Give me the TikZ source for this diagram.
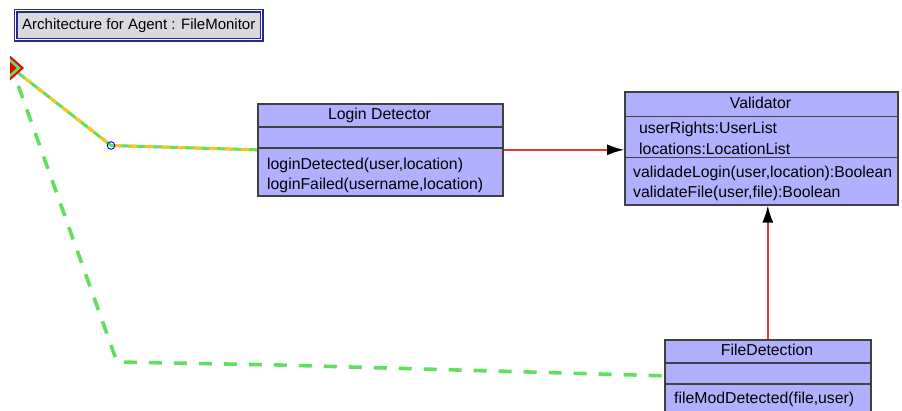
\documentclass[tikz,border=0pt]{standalone}
\usepackage{fontspec}
\setmainfont{Liberation Sans}
\usetikzlibrary{arrows.meta}

\definecolor{classfill}{RGB}{176,176,255}
\definecolor{classedge}{RGB}{64,64,64}
\definecolor{navyedge}{RGB}{40,40,140}
\definecolor{titlefill}{RGB}{218,218,222}
\definecolor{assocred}{RGB}{222,56,56}
\definecolor{linkgreen}{RGB}{96,224,96}
\definecolor{linkgold}{RGB}{255,196,32}
\definecolor{marker}{RGB}{240,0,0}

\tikzset{
  classbox/.style={draw=classedge, fill=classfill, line width=1.6pt, inner sep=0pt, anchor=north west},
  sepline/.style={draw=classedge, line width=1.4pt},
  ctext/.style={inner sep=0pt, font=\fontsize{15.8}{18}\selectfont},
  ctitle/.style={ctext, anchor=base},
  cmember/.style={ctext, anchor=base west},
  assoc/.style={color=assocred, line width=1.4pt, -{Latex[length=17pt,width=11pt,color=black]}},
  greenlink/.style={draw=linkgreen, line width=3.6pt, dash pattern=on 13pt off 12pt, dash phase=6pt},
  mixlink/.style={draw=linkgreen, line width=3pt},
  mixdash/.style={draw=linkgold, line width=3pt, dash pattern=on 8pt off 8pt},
}

\begin{document}
\begin{tikzpicture}[x=1pt, y=-1pt]
  \useasboundingbox[fill=white] (0,0) rectangle (902,410);

  % title plate
  \node[draw=navyedge, double=white, double distance=1.2pt, line width=1.5pt,
        fill=titlefill, minimum width=246pt, minimum height=29pt, inner sep=0pt,
        anchor=north west, font=\fontsize{15}{18}\selectfont] (title) at (15,10)
        {Architecture for Agent : FileMonitor};

  % class boxes
  \node[classbox, minimum width=245pt, minimum height=92pt] (login) at (257,103) {};
  \node[classbox, minimum width=273pt, minimum height=113pt] (val) at (624,91) {};
  \node[classbox, minimum width=206pt, minimum height=72pt] (fd) at (664,339) {};

  % compartment separators
  \draw[sepline] (login.west |- 0,127) -- (login.east |- 0,127);
  \draw[sepline] (login.west |- 0,148) -- (login.east |- 0,148);
  \draw[sepline] (val.west |- 0,116.5) -- (val.east |- 0,116.5);
  \draw[sepline] (val.west |- 0,157.5) -- (val.east |- 0,157.5);
  \draw[sepline] (fd.west |- 0,363) -- (fd.east |- 0,363);
  \draw[sepline] (fd.west |- 0,384) -- (fd.east |- 0,384);

  % Login Detector text
  \node[ctitle] (loginname) at (379.5,119) {Login Detector};
  \node[cmember] (loginm1) at (267,169) {loginDetected(user,location)};
  \node[cmember] (loginm2) at (267,189) {loginFailed(username,location)};

  % Validator text
  \node[ctitle] (valname) at (760.5,108) {Validator};
  \node[cmember] (vala1) at (639,133) {userRights:UserList};
  \node[cmember] (vala2) at (639,154) {locations:LocationList};
  \node[cmember] (valm1) at (633,177) {validadeLogin(user,location):Boolean};
  \node[cmember] (valm2) at (633,197) {validateFile(user,file):Boolean};

  % FileDetection text
  \node[ctitle] (fdname) at (767,355) {FileDetection};
  \node[cmember] (fdm1) at (674,403) {fileModDetected(file,user)};

  % associations
  \draw[assoc] (login.east) -- (login.east -| val.west);
  \draw[assoc] (fd.north) -- (fd.north |- val.south);

  % agent links
  \coordinate (agent) at (12,68);
  \coordinate (bend) at (117,362);
  \coordinate (knot) at (111,145.5);
  \draw[greenlink] (agent) -- (bend) -- (280,365) -- (fd.west);
  \draw[mixlink] (agent) -- (knot) -- (login.west);
  \draw[mixdash] (agent) -- (knot) -- (login.west);
  \draw[draw=blue, line width=0.9pt] (knot) circle (3.8pt);

  % agent marker
  \fill[marker] (10,55.5) -- (24,68) -- (10,80.5) -- cycle;
  \fill[linkgreen] (10,58.5) -- (21,68) -- (10,77.5) -- cycle;
  \fill[marker] (10,62) -- (16.5,68) -- (10,74) -- cycle;
\end{tikzpicture}
\end{document}
